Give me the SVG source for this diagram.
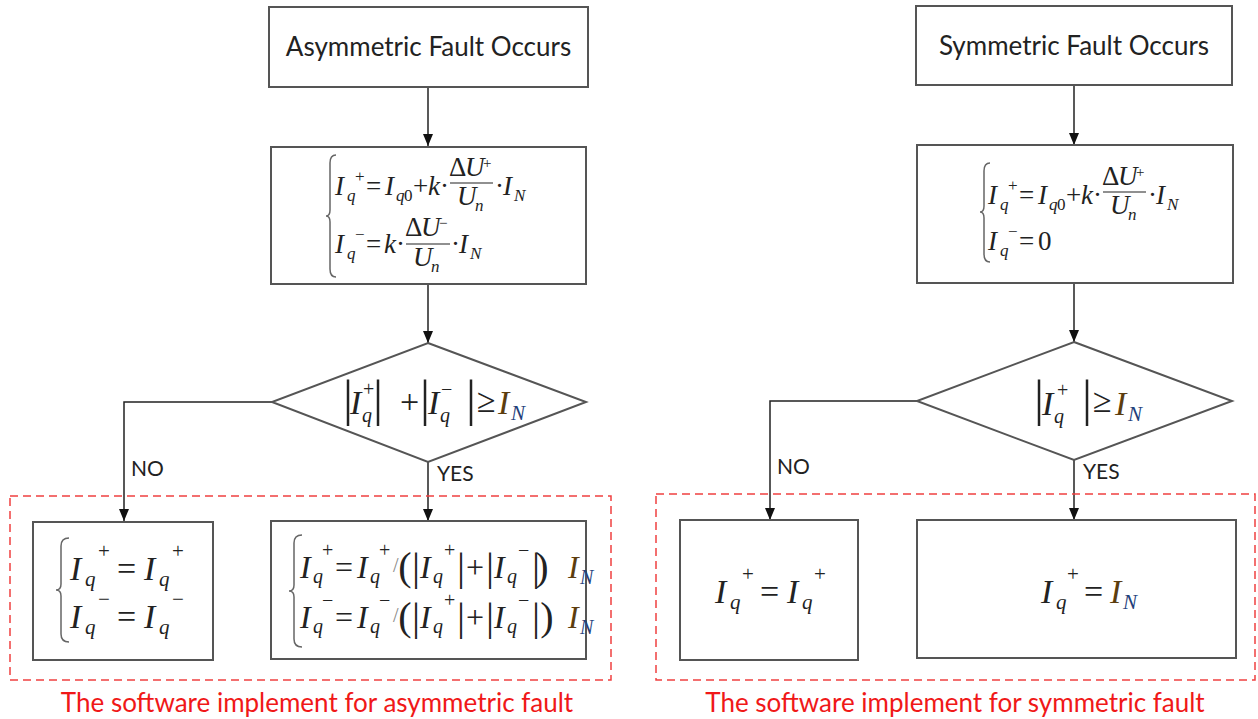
<svg xmlns="http://www.w3.org/2000/svg" width="1258" height="719" viewBox="0 0 1258 719">
<style>
.box{fill:#fff;stroke:#555;stroke-width:2}
.ln{fill:none;stroke:#222;stroke-width:1.5}
.dash{fill:none;stroke:#f04040;stroke-width:1.5;stroke-dasharray:8 5}
.brace{fill:none;stroke:#666;stroke-width:1.5}
.lbl{font-family:Lato,"Open Sans","Liberation Sans",sans-serif;font-size:26px;fill:#222}
.yn{font-family:Lato,"Open Sans","Liberation Sans",sans-serif;font-size:21px;fill:#222}
.cap{font-family:Lato,"Open Sans","Liberation Sans",sans-serif;font-size:26px;fill:#f01818;text-anchor:middle}
.m{font-family:"Liberation Serif","DejaVu Serif",serif;font-style:italic;fill:#222}
.n{font-style:normal}
.s27{font-size:27px}.s17{font-size:17px}.s15{font-size:15px}.s32{font-size:32px}.s34{font-size:34px}.s20{font-size:20px}.s21{font-size:21px}
.bar{font-family:"Liberation Serif",serif;font-style:normal;fill:#222;text-anchor:middle}
.ti{fill:#5c3d0e}.tn{fill:#23407a}
</style>
<defs>
<marker id="ah" markerWidth="12" markerHeight="10" refX="12" refY="5" orient="auto" markerUnits="userSpaceOnUse">
<path d="M0,0 L12,5 L0,10 z" fill="#111"/>
</marker>
</defs>

<g id="connectors">
<line class="ln" x1="428" y1="87" x2="428" y2="146" marker-end="url(#ah)"/>
<line class="ln" x1="428" y1="284" x2="428" y2="343" marker-end="url(#ah)"/>
<polyline class="ln" points="272,402 124,402 124,521" marker-end="url(#ah)"/>
<line class="ln" x1="428" y1="462" x2="428" y2="521" marker-end="url(#ah)"/>
<line class="ln" x1="1074" y1="85" x2="1074" y2="145" marker-end="url(#ah)"/>
<line class="ln" x1="1074" y1="283" x2="1074" y2="342" marker-end="url(#ah)"/>
<polyline class="ln" points="917,401 770,401 770,520" marker-end="url(#ah)"/>
<line class="ln" x1="1074" y1="460" x2="1074" y2="520" marker-end="url(#ah)"/>
<text class="yn" x="131" y="476">NO</text>
<text class="yn" x="437" y="481">YES</text>
<text class="yn" x="777" y="474">NO</text>
<text class="yn" x="1083" y="479">YES</text>
</g>

<g id="groups">
<rect class="dash" x="10" y="496" width="601" height="184"/>
<text class="cap" x="317" y="712">The software implement for asymmetric fault</text>
<rect class="dash" x="656" y="494" width="599" height="186"/>
<text class="cap" x="955" y="712">The software implement for symmetric fault</text>
</g>

<g id="asym-start">
<rect class="box" x="269" y="7" width="319" height="80"/>
<text class="lbl" x="428.5" y="56" text-anchor="middle">Asymmetric Fault Occurs</text>
</g>

<g id="asym-calc">
<rect class="box" x="271" y="147" width="315" height="137"/>
<path class="brace" d="M336,155 Q330,155 330,163 L330,210 Q330,216 326,216 Q330,216 330,222 L330,269 Q330,277 336,277"/>
<text class="m s27">
<tspan x="335" y="195">I</tspan><tspan class="s17" x="347" y="201">q</tspan><tspan class="n s17" x="355" y="182">+</tspan>
<tspan class="n" x="366" y="195">=</tspan>
<tspan x="385" y="195">I</tspan><tspan class="s17" x="396" y="201">q</tspan><tspan class="n s17" x="404" y="201">0</tspan>
<tspan class="n" x="413" y="195">+</tspan>
<tspan x="428" y="195">k</tspan><tspan class="n" x="440" y="195">·</tspan>
<tspan class="n" x="449" y="176">Δ</tspan><tspan x="465" y="176">U</tspan><tspan class="n s15" x="483" y="168">+</tspan>
<tspan x="457" y="205">U</tspan><tspan class="s17" x="475" y="211">n</tspan>
<tspan class="n" x="495" y="195">·</tspan><tspan x="503" y="195">I</tspan><tspan class="s17" x="514" y="201">N</tspan>
</text>
<line x1="450" y1="183" x2="493" y2="183" stroke="#222" stroke-width="1.2"/>
<text class="m s27">
<tspan x="335" y="253">I</tspan><tspan class="s17" x="347" y="259">q</tspan><tspan class="n s17" x="355" y="240">−</tspan>
<tspan class="n" x="366" y="253">=</tspan>
<tspan x="384" y="253">k</tspan><tspan class="n" x="396" y="253">·</tspan>
<tspan class="n" x="405" y="236">Δ</tspan><tspan x="421" y="236">U</tspan><tspan class="n s15" x="439" y="228">−</tspan>
<tspan x="413" y="266">U</tspan><tspan class="s17" x="431" y="272">n</tspan>
<tspan class="n" x="451" y="253">·</tspan><tspan x="459" y="253">I</tspan><tspan class="s17" x="470" y="259">N</tspan>
</text>
<line x1="406" y1="244" x2="450" y2="244" stroke="#222" stroke-width="1.2"/>
</g>

<g id="asym-decision">
<polygon class="box" points="428,343 586,402 428,462 272,402"/>
<text class="bar" font-size="50"><tspan x="348" y="415">|</tspan><tspan x="378" y="415">|</tspan><tspan x="425" y="415">|</tspan><tspan x="471" y="415">|</tspan></text>
<text class="m s34">
<tspan x="350" y="414">I</tspan><tspan class="s20" x="362" y="422">q</tspan><tspan class="n s20" x="363" y="396">+</tspan>
<tspan class="n" x="400" y="413">+</tspan>
<tspan x="428" y="414">I</tspan><tspan class="s20" x="440" y="422">q</tspan><tspan class="n s20" x="441" y="396">−</tspan>
<tspan class="n" x="477" y="412">≥</tspan>
<tspan class="ti" x="498" y="414">I</tspan><tspan class="s21 tn" x="511" y="420">N</tspan>
</text>
</g>

<g id="asym-no">
<rect class="box" x="33" y="522" width="180" height="138"/>
<path class="brace" d="M69,538 Q61,538 61,546 L61,584 Q61,590 56,590 Q61,590 61,596 L61,634 Q61,642 69,642"/>
<text class="m s34">
<tspan x="70" y="580">I</tspan><tspan class="s21" x="85" y="586">q</tspan><tspan class="n s21" x="98" y="558">+</tspan>
<tspan class="n" x="117" y="580">=</tspan>
<tspan x="144" y="580">I</tspan><tspan class="s21" x="159" y="586">q</tspan><tspan class="n s21" x="172" y="558">+</tspan>
<tspan x="70" y="628">I</tspan><tspan class="s21" x="85" y="634">q</tspan><tspan class="n s21" x="98" y="606">−</tspan>
<tspan class="n" x="117" y="628">=</tspan>
<tspan x="144" y="628">I</tspan><tspan class="s21" x="159" y="634">q</tspan><tspan class="n s21" x="172" y="606">−</tspan>
</text>
</g>

<g id="asym-yes">
<rect class="box" x="271" y="521" width="315" height="138"/>
<path class="brace" d="M302,535 Q294,535 294,543 L294,585 Q294,591 289,591 Q294,591 294,597 L294,639 Q294,647 302,647"/>
<text class="bar" font-size="40">
<tspan x="405" y="580">(</tspan><tspan x="416" y="580">|</tspan><tspan x="461" y="580">|</tspan><tspan x="490" y="580">|</tspan><tspan x="536" y="580">|</tspan><tspan x="547" y="580">)</tspan>
<tspan x="405" y="630">(</tspan><tspan x="416" y="630">|</tspan><tspan x="461" y="630">|</tspan><tspan x="490" y="630">|</tspan><tspan x="536" y="630">|</tspan><tspan x="547" y="630">)</tspan>
</text>
<text class="m s32">
<tspan x="300" y="578">I</tspan><tspan class="s20" x="313" y="583">q</tspan><tspan class="n s20" x="322" y="557">+</tspan>
<tspan class="n" x="335" y="578">=</tspan>
<tspan x="357" y="578">I</tspan><tspan class="s20" x="370" y="583">q</tspan><tspan class="n s20" x="379" y="557">+</tspan>
<tspan class="n s20" x="393" y="572" fill="#888">/</tspan>
<tspan x="420" y="578">I</tspan><tspan class="s20" x="433" y="583">q</tspan><tspan class="n s20" x="444" y="557">+</tspan>
<tspan class="n" x="466" y="578">+</tspan>
<tspan x="494" y="578">I</tspan><tspan class="s20" x="507" y="583">q</tspan><tspan class="n s20" x="518" y="557">−</tspan>
<tspan class="ti" x="568" y="578">I</tspan><tspan class="s20 tn" x="580" y="584">N</tspan>
<tspan x="300" y="628">I</tspan><tspan class="s20" x="313" y="633">q</tspan><tspan class="n s20" x="322" y="607">−</tspan>
<tspan class="n" x="335" y="628">=</tspan>
<tspan x="357" y="628">I</tspan><tspan class="s20" x="370" y="633">q</tspan><tspan class="n s20" x="379" y="607">−</tspan>
<tspan class="n s20" x="393" y="622" fill="#888">/</tspan>
<tspan x="420" y="628">I</tspan><tspan class="s20" x="433" y="633">q</tspan><tspan class="n s20" x="444" y="607">+</tspan>
<tspan class="n" x="466" y="628">+</tspan>
<tspan x="494" y="628">I</tspan><tspan class="s20" x="507" y="633">q</tspan><tspan class="n s20" x="518" y="607">−</tspan>
<tspan class="ti" x="568" y="628">I</tspan><tspan class="s20 tn" x="580" y="634">N</tspan>
</text>
</g>

<g id="sym-start">
<rect class="box" x="916" y="6" width="316" height="79"/>
<text class="lbl" x="1074" y="55" text-anchor="middle">Symmetric Fault Occurs</text>
</g>

<g id="sym-calc">
<rect class="box" x="917" y="145" width="316" height="138"/>
<path class="brace" d="M990,163 Q984,163 984,171 L984,206 Q984,212 980,212 Q984,212 984,218 L984,254 Q984,262 990,262"/>
<text class="m s27">
<tspan x="988" y="204">I</tspan><tspan class="s17" x="1000" y="210">q</tspan><tspan class="n s17" x="1008" y="191">+</tspan>
<tspan class="n" x="1019" y="204">=</tspan>
<tspan x="1038" y="204">I</tspan><tspan class="s17" x="1049" y="210">q</tspan><tspan class="n s17" x="1057" y="210">0</tspan>
<tspan class="n" x="1066" y="204">+</tspan>
<tspan x="1081" y="204">k</tspan><tspan class="n" x="1093" y="204">·</tspan>
<tspan class="n" x="1102" y="185">Δ</tspan><tspan x="1118" y="185">U</tspan><tspan class="n s15" x="1136" y="177">+</tspan>
<tspan x="1110" y="214">U</tspan><tspan class="s17" x="1128" y="220">n</tspan>
<tspan class="n" x="1148" y="204">·</tspan><tspan x="1156" y="204">I</tspan><tspan class="s17" x="1167" y="210">N</tspan>
</text>
<line x1="1103" y1="192" x2="1146" y2="192" stroke="#222" stroke-width="1.2"/>
<text class="m s27">
<tspan x="988" y="250">I</tspan><tspan class="s17" x="1000" y="256">q</tspan><tspan class="n s17" x="1008" y="237">−</tspan>
<tspan class="n" x="1019" y="250">=</tspan>
<tspan class="n" x="1038" y="250">0</tspan>
</text>
</g>

<g id="sym-decision">
<polygon class="box" points="1074,342 1232,401 1074,460 917,401"/>
<text class="bar" font-size="50"><tspan x="1039" y="415">|</tspan><tspan x="1087" y="415">|</tspan></text>
<text class="m s34">
<tspan x="1042" y="415">I</tspan><tspan class="s20" x="1054" y="423">q</tspan><tspan class="n s20" x="1057" y="397">+</tspan>
<tspan class="n" x="1093" y="412">≥</tspan>
<tspan class="ti" x="1115" y="415">I</tspan><tspan class="s21 tn" x="1128" y="421">N</tspan>
</text>
</g>

<g id="sym-no">
<rect class="box" x="680" y="520" width="178" height="140"/>
<text class="m s34">
<tspan x="715" y="603">I</tspan><tspan class="s21" x="730" y="609">q</tspan><tspan class="n s21" x="742" y="581">+</tspan>
<tspan class="n" x="760" y="603">=</tspan>
<tspan x="787" y="603">I</tspan><tspan class="s21" x="802" y="609">q</tspan><tspan class="n s21" x="814" y="581">+</tspan>
</text>
</g>

<g id="sym-yes">
<rect class="box" x="917" y="520" width="319" height="138"/>
<text class="m s34">
<tspan x="1041" y="603">I</tspan><tspan class="s21" x="1056" y="609">q</tspan><tspan class="n s21" x="1067" y="581">+</tspan>
<tspan class="n" x="1084" y="603">=</tspan>
<tspan class="ti" x="1110" y="603">I</tspan><tspan class="s21 tn" x="1123" y="609">N</tspan>
</text>
</g>
</svg>
